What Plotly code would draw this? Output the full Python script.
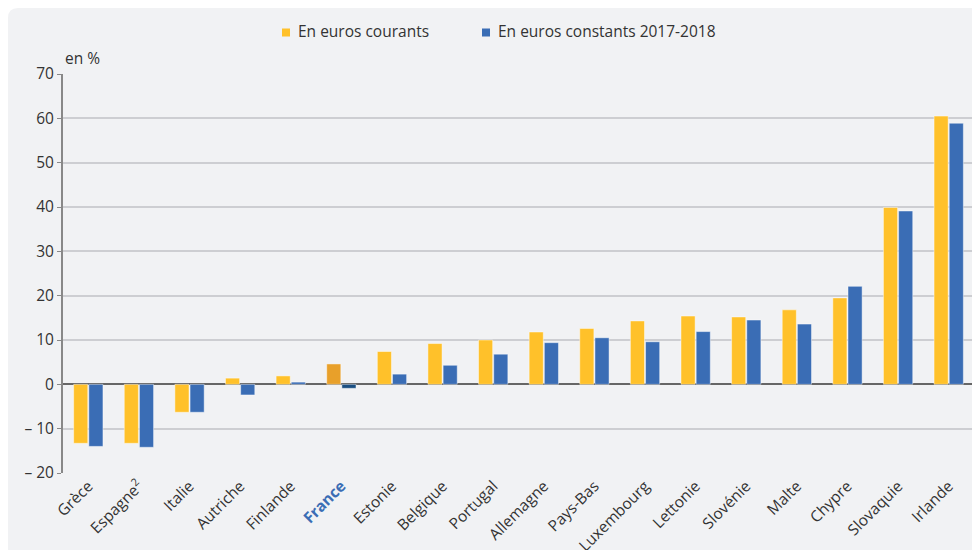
import plotly.graph_objects as go

countries = ["Grèce", "Espagne<sup>2</sup>", "Italie", "Autriche", "Finlande", "France",
             "Estonie", "Belgique", "Portugal", "Allemagne", "Pays-Bas", "Luxembourg",
             "Lettonie", "Slovénie", "Malte", "Chypre", "Slovaquie", "Irlande"]
courants = [-13.3, -13.3, -6.3, 1.4, 1.9, 4.6, 7.4, 9.2, 10.0, 11.8, 12.6, 14.3,
            15.4, 15.2, 16.8, 19.5, 39.9, 60.5]
constants = [-14.0, -14.2, -6.3, -2.4, 0.5, -0.9, 2.3, 4.3, 6.8, 9.4, 10.5, 9.6,
             11.9, 14.5, 13.6, 22.1, 39.1, 58.9]
series_names = ["En euros courants", "En euros constants 2017-2018"]
tick_vals = [-20, -10, 0, 10, 20, 30, 40, 50, 60, 70]
tick_text = ["– 20", "– 10", "0", "10", "20", "30", "40", "50", "60", "70"]

YEL, YEL_HI = "#FFC12A", "#E8A02A"
BLU, BLU_HI = "#3A6DB5", "#1B4F82"

highlight = "France"
xlabels = [f"<b><span style='color:#3A6DB5'>{c}</span></b>" if c == highlight else c for c in countries]
col1 = [YEL_HI if c == highlight else YEL for c in countries]
col2 = [BLU_HI if c == highlight else BLU for c in countries]

fig = go.Figure()
fig.add_bar(x=xlabels, y=courants, name=series_names[0], showlegend=False,
            marker=dict(color=col1, line=dict(color="rgba(255,255,255,0.45)", width=1)))
fig.add_bar(x=xlabels, y=constants, name=series_names[1], showlegend=False,
            marker=dict(color=col2, line=dict(color="rgba(255,255,255,0.45)", width=1)))

# figure is placed at page offset (8, 8)
OFF = 8
L, R, T, B = 55, 6, 66, 77
W, H = 972, 542
pw, ph = W - L - R, H - T - B
def px(x): return (x - OFF - L) / pw          # page x -> paper x
def py(y): return (H - B - (y - OFF)) / ph    # page y -> paper y

# rounded light-grey panel
x0, y0, x1, y1 = px(8), py(8), px(1000), py(570)
r = 10
rx, ry = r / pw, r / ph
path = (f"M {x0},{y1} L {x0},{y0-ry} Q {x0},{y0} {x0+rx},{y0} "
        f"L {x1},{y0} L {x1},{y1} Z")

FS = 15.5
shapes = [dict(type="path", path=path, xref="paper", yref="paper",
               fillcolor="#F1F2F4", line=dict(width=0), layer="below")]
annotations = [dict(text="en %", x=px(63), y=py(58), xref="paper", yref="paper",
                    showarrow=False, xanchor="left", yanchor="middle",
                    font=dict(size=FS, color="#333333"))]

# manual legend
leg_x = [282, 482]
leg_cols = [YEL, BLU]
for lx, c, name in zip(leg_x, leg_cols, series_names):
    shapes.append(dict(type="rect", xref="paper", yref="paper",
                       x0=px(lx), x1=px(lx + 8), y0=py(36.5), y1=py(28.5),
                       fillcolor=c, line=dict(width=0)))
    annotations.append(dict(text=name, x=px(lx + 14), y=py(31.5), xref="paper", yref="paper",
                            showarrow=False, xanchor="left", yanchor="middle",
                            font=dict(size=FS, color="#333333")))

fig.update_layout(
    width=W, height=H,
    margin=dict(l=L, r=R, t=T, b=B, autoexpand=False),
    paper_bgcolor="white",
    plot_bgcolor="rgba(0,0,0,0)",
    font=dict(family="Open Sans", size=FS, color="#333333"),
    barmode="group", bargap=0.4, bargroupgap=0.07,
    shapes=shapes,
    annotations=annotations,
    showlegend=False,
    xaxis=dict(tickangle=-45, showgrid=False, ticks="", showline=False, automargin=False,
               tickfont=dict(size=FS, color="#333333")),
    yaxis=dict(range=[-20, 70], tickvals=tick_vals, ticktext=tick_text, automargin=False,
               showgrid=True, gridcolor="#CDCED2", gridwidth=1.5,
               zeroline=True, zerolinecolor="#666666", zerolinewidth=2,
               showline=True, linecolor="#888888", linewidth=2,
               ticks="outside", ticklen=4, tickcolor="#888888",
               tickfont=dict(size=FS, color="#333333")),
)

fig.write_html("out.html")
